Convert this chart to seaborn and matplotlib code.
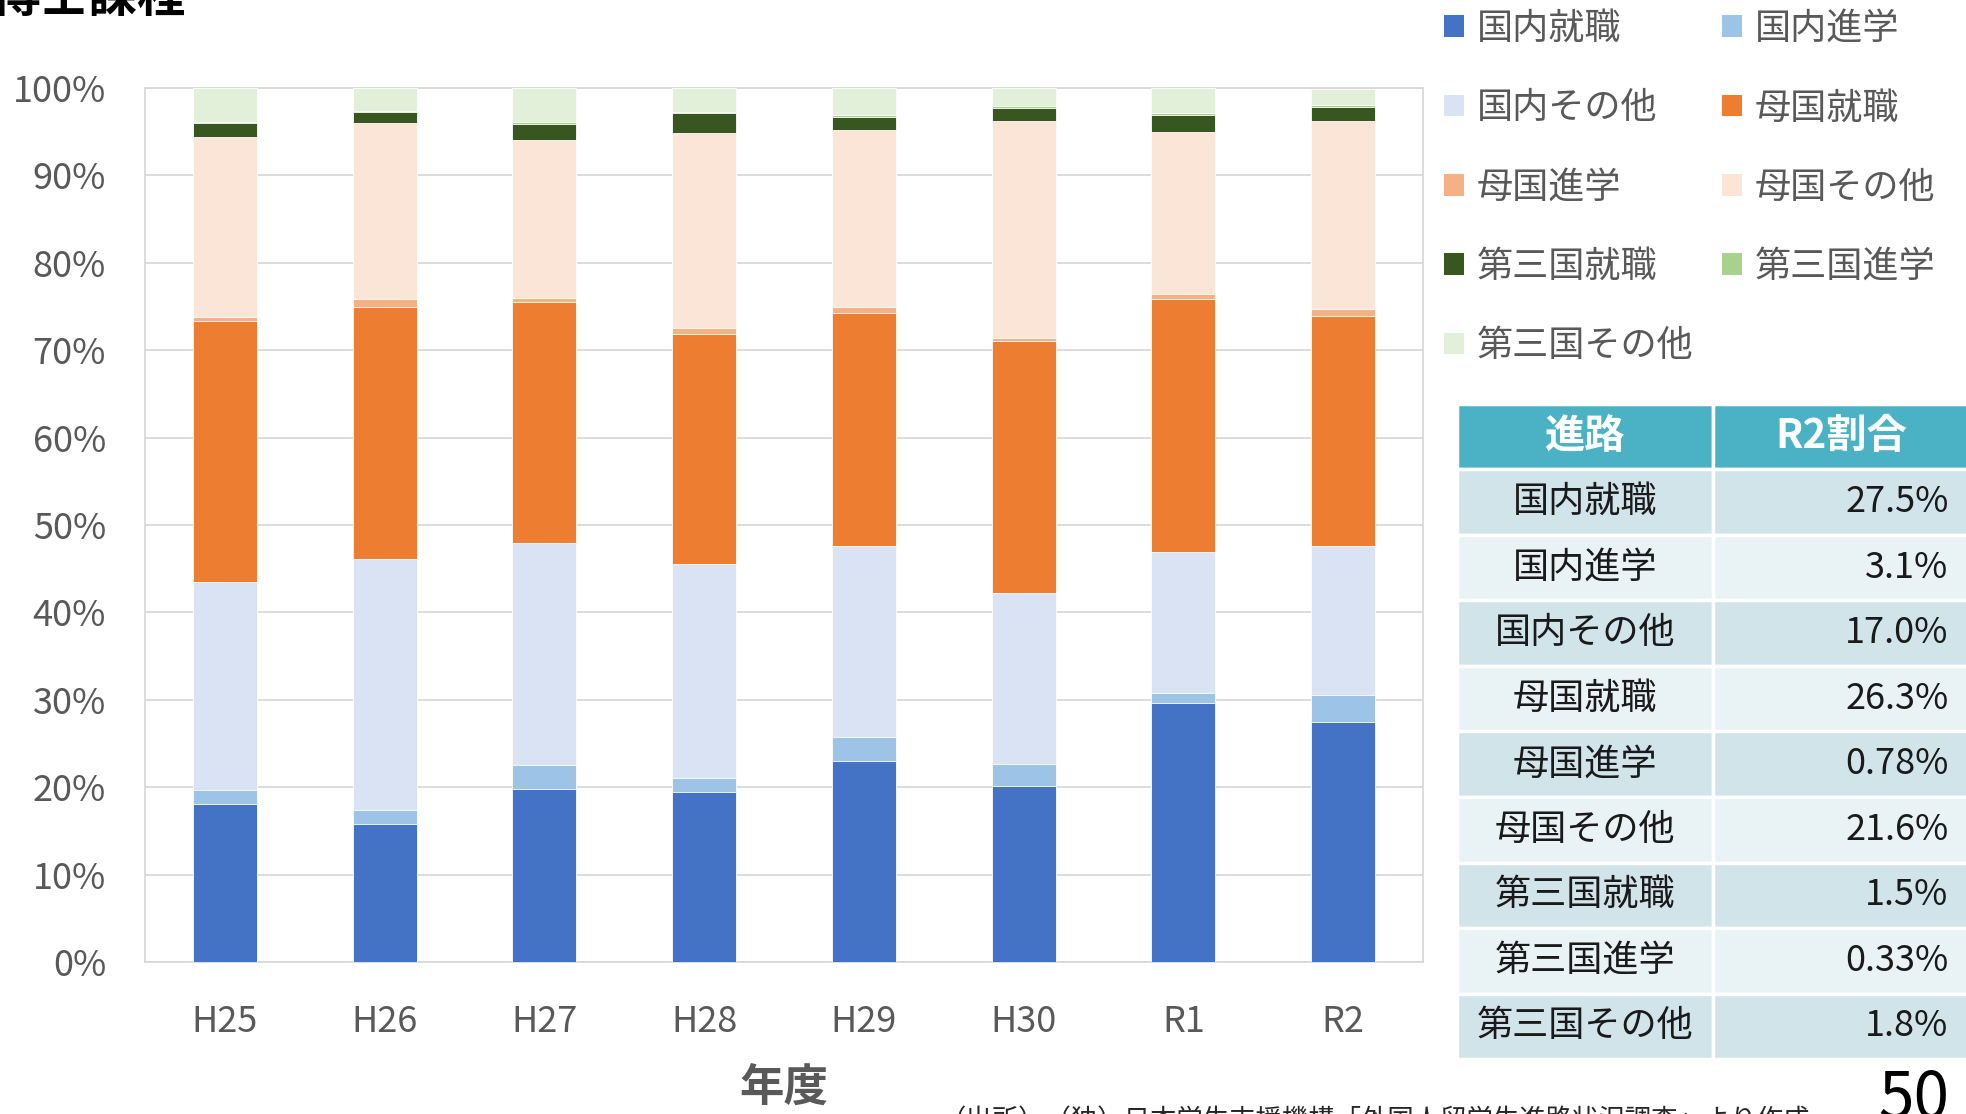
import matplotlib
matplotlib.use("Agg")
import matplotlib.pyplot as plt
import pandas as pd
import seaborn as sns
from matplotlib.patches import Patch
from matplotlib.table import Table
from matplotlib import font_manager

# data (percent of graduates, doctoral course)
years = ['H25', 'H26', 'H27', 'H28', 'H29', 'H30', 'R1', 'R2']
categories = ['国内就職', '国内進学', '国内その他', '母国就職', '母国進学',
              '母国その他', '第三国就職', '第三国進学', '第三国その他']
dom_job = [18.1, 15.8, 19.8, 19.4, 23.0, 20.1, 29.6, 27.5]
dom_study = [1.6, 1.6, 2.7, 1.7, 2.7, 2.6, 1.2, 3.1]
dom_other = [23.8, 28.7, 25.4, 24.4, 21.9, 19.5, 16.1, 17.0]
home_job = [29.8, 28.9, 27.6, 26.35, 26.6, 28.8, 29.0, 26.3]
home_study = [0.46, 0.9, 0.5, 0.65, 0.75, 0.4, 0.5, 0.78]
home_other = [20.6, 20.1, 18.1, 22.4, 20.2, 24.8, 18.6, 21.6]
third_job = [1.6, 1.25, 1.8, 2.2, 1.5, 1.55, 1.9, 1.5]
third_study = [0.2, 0.1, 0.2, 0.1, 0.3, 0.15, 0.2, 0.33]
third_other = [3.84, 2.65, 3.9, 2.8, 3.05, 2.1, 2.9, 1.8]

table_header = ['進路', 'R2割合']
table_values = ['27.5%', '3.1%', '17.0%', '26.3%', '0.78%', '21.6%', '1.5%', '0.33%', '1.8%']

colors = ['#4472C4', '#9DC3E6', '#DAE3F3', '#ED7D31', '#F4B183',
          '#FBE5D6', '#38561F', '#A9D18E', '#E2F0D9']

sns.set_style("white")
plt.rcParams['font.family'] = ['Noto Sans CJK JP', 'DejaVu Sans']
names = {f.name for f in font_manager.fontManager.ttflist}
narrow = 'Liberation Sans Narrow' if 'Liberation Sans Narrow' in names else 'Noto Sans CJK JP'

gray = '#595959'
grid = '#D9D9D9'

df = pd.DataFrame({'year': years})
series = [dom_job, dom_study, dom_other, home_job, home_study,
          home_other, third_job, third_study, third_other]
for name, vals in zip(categories, series):
    df[name] = vals
# cumulative sums, drawn from the top layer down so each bar covers the one below
cum = df[categories].cumsum(axis=1)

fig = plt.figure(figsize=(19.66, 11.14), dpi=100)
ax = fig.add_axes([145 / 1966, 152 / 1114, 1278 / 1966, 874 / 1114])

for name, c in reversed(list(zip(categories, colors))):
    sns.barplot(x=df['year'], y=cum[name], color=c, width=0.4,
                edgecolor='white', linewidth=0.6, saturation=1, ax=ax, zorder=3)

ax.set_ylim(0, 100)
ax.set_xlim(-0.5, 7.5)
ax.set_yticks(range(0, 101, 10))
ax.set_yticklabels([f'{v}%' for v in range(0, 101, 10)])
ax.yaxis.grid(True, color=grid, linewidth=1.3, zorder=0)
ax.set_axisbelow(True)
ax.tick_params(axis='both', length=0, labelsize=26, labelcolor=gray)
ax.tick_params(axis='y', pad=28)
ax.tick_params(axis='x', pad=30)
ax.set_xlabel('')
ax.set_ylabel('')
for s in ax.spines.values():
    s.set_visible(True)
    s.set_color(grid)
    s.set_linewidth(1.3)

# legend, row-major order like the original
handles = [Patch(facecolor=c, edgecolor='none') for c in colors]
order = [0, 2, 4, 6, 8, 1, 3, 5, 7]
leg = fig.legend([handles[i] for i in order], [categories[i] for i in order],
                 ncol=2, loc='upper left', bbox_to_anchor=(1444 / 1966, 1 - 11 / 1114),
                 frameon=False, fontsize=26, handlelength=0.55, handleheight=0.55,
                 handletextpad=0.35, columnspacing=0.8, labelspacing=1.2,
                 borderpad=0, borderaxespad=0)
for t in leg.get_texts():
    t.set_color(gray)

# table with R2 shares
tax = fig.add_axes([1457 / 1966, 55 / 1114, 512 / 1966, 655 / 1114])
tax.axis('off')
tb = Table(tax, bbox=[0, 0, 1, 1])
nrows = len(categories) + 1
h = 1 / nrows
head = tb.add_cell(0, 0, 0.5, h, text=table_header[0], loc='center', facecolor='#4BB2C5')
head2 = tb.add_cell(0, 1, 0.5, h, text=table_header[1], loc='center', facecolor='#4BB2C5')
for cell in (head, head2):
    cell.get_text().set_color('white')
    cell.get_text().set_fontweight('bold')
    cell.get_text().set_fontsize(29)
for i, (name, val) in enumerate(zip(categories, table_values)):
    fc = '#D1E4EA' if i % 2 == 0 else '#E9F2F5'
    c1 = tb.add_cell(i + 1, 0, 0.5, h, text=name, loc='center', facecolor=fc)
    c2 = tb.add_cell(i + 1, 1, 0.5, h, text=val, loc='right', facecolor=fc)
    for cell in (c1, c2):
        cell.get_text().set_fontsize(26)
        cell.get_text().set_color('#1a1a1a')
    c2.PAD = 0.08
tb.auto_set_font_size(False)
for cell in tb.get_celld().values():
    cell.set_edgecolor('white')
    cell.set_linewidth(2.5)
tax.add_table(tb)

# texts
fig.text(-8 / 1966, 1 + 2 / 1114, '博士課程', fontsize=35, fontweight='bold',
         color='black', va='center', ha='left')
fig.text(784 / 1966, 1 - 1088 / 1114, '年度', fontsize=32, fontweight='bold',
         color=gray, va='center', ha='center')
fig.text(940 / 1966, 1 - 1107 / 1114, '（出所）（独）日本学生支援機構「外国人留学生進路状況調査」より作成',
         fontsize=19, color='#262626', va='top', ha='left')
fig.text(1914 / 1966, 1 - 1100 / 1114, '50', fontsize=46, family=narrow,
         color='black', va='center', ha='center')

fig.savefig('out.png', dpi=100)
